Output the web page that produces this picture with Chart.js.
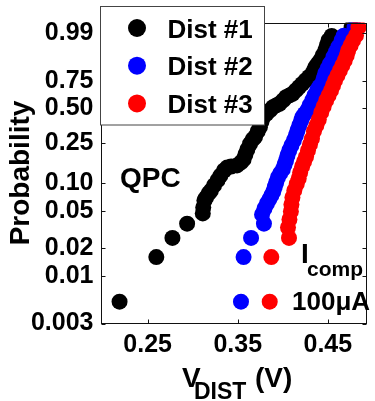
<!DOCTYPE html>
<html><head><meta charset="utf-8">
<script src="https://cdn.jsdelivr.net/npm/chart.js@4.4.1/dist/chart.umd.min.js"></script>
<style>html,body{margin:0;padding:0;background:#fff;}#wrap{width:375px;height:401px;position:relative;}</style>
</head><body><div id="wrap"><canvas id="c"></canvas></div>
<script>
// ---- data ----
const seriesNames = ['Dist #1', 'Dist #2', 'Dist #3'];
const seriesColors = ['#000000', '#0000ff', '#ff0000'];

const dist1V = [0.2188,0.2596,0.2775,0.2938,0.3112,0.3117,0.3130,0.3148,0.3177,0.3202,0.3237,0.3275,0.3308,0.3348,0.3384,0.3427,0.3492,0.3536,0.3565,0.3585,0.3607,0.3637,0.3666,0.3691,0.3721,0.3746,0.3764,0.3782,0.3818,0.3857,0.3891,0.3927,0.3963,0.4003,0.4036,0.4074,0.4109,0.4145,0.4180,0.4215,0.4253,0.4291,0.4326,0.4346,0.4362,0.4389,0.4416,0.4443,0.4471,0.4489,0.4507,0.4543,0.4764];
const dist1P = [0.0052,0.016,0.0258,0.0368,0.0475,0.055,0.0653,0.070,0.0774,0.083,0.094,0.106,0.119,0.134,0.144,0.1473,0.151,0.1617,0.1733,0.1942,0.2174,0.2466,0.2707,0.2843,0.3204,0.350,0.392,0.4258,0.4538,0.4816,0.5105,0.5258,0.541,0.571,0.6016,0.6175,0.633,0.6637,0.694,0.723,0.7542,0.784,0.810,0.836,0.860,0.8825,0.9025,0.9287,0.950,0.9666,0.979,0.9868,0.9953];

const dist2V = [0.3536,0.3565,0.3648,0.3791,0.3770,0.3797,0.3824,0.3851,0.3873,0.3895,0.3911,0.3927,0.3946,0.3971,0.4000,0.4020,0.4036,0.4052,0.4072,0.4096,0.4123,0.4145,0.4163,0.4183,0.4204,0.4217,0.4242,0.4272,0.4297,0.4326,0.4351,0.4380,0.4405,0.4435,0.4454,0.4471,0.4498,0.4525,0.4561,0.4590,0.4615,0.4652,0.4677,0.4797];
const dist2P = [0.0052,0.016,0.0258,0.0368,0.0463,0.0536,0.0606,0.067,0.0737,0.0812,0.0905,0.1008,0.1137,0.1251,0.1374,0.1544,0.1694,0.1899,0.2126,0.2376,0.2648,0.2947,0.327,0.3623,0.3995,0.425,0.452,0.4816,0.5258,0.571,0.6175,0.6637,0.696,0.725,0.7715,0.813,0.8505,0.883,0.9204,0.9442,0.9615,0.979,0.987,0.9953];

const dist3V = [0.3855,0.3873,0.4069,0.4058,0.4074,0.4090,0.4096,0.4107,0.4128,0.4155,0.4177,0.4193,0.4215,0.4237,0.4259,0.4280,0.4302,0.4324,0.4346,0.4373,0.4400,0.4427,0.4454,0.4482,0.4509,0.4536,0.4558,0.4580,0.4607,0.4634,0.4661,0.4688,0.4710,0.4726,0.4753,0.4780,0.4813,0.4840];
const dist3P = [0.0052,0.016,0.0258,0.0335,0.0409,0.0498,0.0592,0.0702,0.0832,0.0973,0.111,0.128,0.1475,0.1655,0.185,0.2126,0.243,0.275,0.322,0.3623,0.407,0.4647,0.517,0.571,0.6175,0.6637,0.7097,0.7542,0.7967,0.8358,0.8714,0.9025,0.9287,0.950,0.9666,0.979,0.9875,0.9953];

const xTickValues = [0.25, 0.35, 0.45];
const xTickLabels = ['0.25', '0.35', '0.45'];
const yTickValues = [0.003, 0.01, 0.02, 0.05, 0.10, 0.25, 0.50, 0.75, 0.99];
const yTickLabels = ['0.003', '0.01', '0.02', '0.05', '0.10', '0.25', '0.50', '0.75', '0.99'];
const xRange = [0.1982, 0.4935];
const yRange = [0.003, 0.9977];

// ---- Weibull probability scale ----
const FONT = "'Liberation Sans', Arial, sans-serif";
function weib(p) { return Math.log(-Math.log(1 - p)); }

class WeibullScale extends Chart.Scale {
  parse(raw) { return raw; }
  determineDataLimits() { this.min = this.options.min; this.max = this.options.max; }
  buildTicks() { return yTickValues.map(v => ({ value: v })); }
  getLabelForValue(v) { return String(v); }
  configure() {
    super.configure();
    this._wStart = weib(this.min);
    this._wEnd = weib(this.max);
  }
  getPixelForValue(v) {
    return this.getPixelForDecimal((weib(v) - this._wStart) / (this._wEnd - this._wStart));
  }
  getValueForPixel(p) {
    const w = this._wStart + this.getDecimalForPixel(p) * (this._wEnd - this._wStart);
    return 1 - Math.exp(-Math.exp(w));
  }
}
WeibullScale.id = 'weibull';
WeibullScale.defaults = {};
Chart.register(WeibullScale);

function pts(V, P) { return V.map((v, i) => ({ x: v, y: P[i] })); }
const allV = [dist1V, dist2V, dist3V];
const allP = [dist1P, dist2P, dist3P];

const frameAndText = {
  id: 'frameAndText',
  afterDatasetsDraw(chart) {
    const ctx = chart.ctx, a = chart.chartArea;
    const xs = chart.scales.x, ys = chart.scales.y;
    ctx.save();
    ctx.strokeStyle = '#111';
    ctx.lineWidth = 1;
    const L = Math.round(a.left) + 0.5, R = Math.round(a.right) - 0.5;
    const T = Math.round(a.top) + 0.5, B = Math.round(a.bottom) - 0.5;
    ctx.strokeRect(L, T, R - L, B - T);
    ctx.beginPath();
    xTickValues.forEach(v => {
      const px = Math.round(xs.getPixelForValue(v)) + 0.5;
      ctx.moveTo(px, B); ctx.lineTo(px, B - 4);
      ctx.moveTo(px, T); ctx.lineTo(px, T + 4);
    });
    yTickValues.forEach(v => {
      const py = Math.round(ys.getPixelForValue(v)) + 0.5;
      ctx.moveTo(L, py); ctx.lineTo(L + 4, py);
      ctx.moveTo(R, py); ctx.lineTo(R - 4, py);
    });
    ctx.stroke();
    ctx.restore();
  },
  afterDraw(chart) {
    const ctx = chart.ctx;
    ctx.save();
    // legend box
    ctx.fillStyle = '#fff';
    ctx.fillRect(100.5, 6.5, 164, 118.5);
    ctx.strokeStyle = '#444';
    ctx.lineWidth = 1;
    ctx.strokeRect(100.5, 6.5, 164, 118.5);
    ctx.textAlign = 'left';
    ctx.textBaseline = 'alphabetic';
    seriesNames.forEach((name, i) => {
      const cy = 28 + i * 37.7;
      ctx.fillStyle = seriesColors[i];
      ctx.beginPath(); ctx.arc(137, cy, 9, 0, Math.PI * 2); ctx.fill();
      ctx.fillStyle = '#000';
      ctx.font = 'bold 26px ' + FONT;
      ctx.fillText(name, 167.5, cy + 9.5);
    });
    // annotations
    ctx.fillStyle = '#000';
    ctx.font = 'bold 28px ' + FONT;
    ctx.fillText('QPC', 120, 187);
    ctx.fillText('I', 301, 263);
    ctx.font = 'bold 21px ' + FONT;
    ctx.fillText('comp', 307, 276);
    ctx.font = 'bold 26px ' + FONT;
    ctx.fillText('100\u03bcA', 292, 310);
    // x axis title
    ctx.font = 'bold 28px ' + FONT;
    ctx.fillText('V', 182, 387);
    ctx.font = 'bold 23px ' + FONT;
    ctx.fillText('DIST', 194, 399);
    ctx.font = 'bold 28px ' + FONT;
    ctx.fillText('(V)', 255, 387);
    ctx.restore();
  }
};

new Chart(document.getElementById('c'), {
  type: 'scatter',
  data: {
    datasets: seriesNames.map((name, i) => ({
      label: name,
      data: pts(allV[i], allP[i]),
      backgroundColor: seriesColors[i],
      borderColor: seriesColors[i],
      pointRadius: 8,
      pointHoverRadius: 8,
      pointBorderWidth: 0,
      showLine: false,
      clip: 0,
      order: 3 - i
    }))
  },
  options: {
    responsive: true,
    maintainAspectRatio: false,
    devicePixelRatio: 1,
    animation: false,
    events: [],
    layout: { padding: { top: 22, right: 2.5, left: 0, bottom: 0 } },
    plugins: { legend: { display: false }, tooltip: { enabled: false } },
    scales: {
      x: {
        type: 'linear',
        min: xRange[0], max: xRange[1],
        grid: { display: false, drawTicks: false },
        border: { display: false },
        afterBuildTicks: s => { s.ticks = xTickValues.map(v => ({ value: v })); },
        afterFit: s => { s.height = 77.5; },
        ticks: {
          autoSkip: false, maxRotation: 0, padding: 7, color: '#000',
          font: { family: FONT, size: 25, weight: 'bold' },
          callback: (v) => xTickLabels[xTickValues.indexOf(v)]
        }
      },
      y: {
        type: 'weibull',
        position: 'left',
        min: yRange[0], max: yRange[1],
        grid: { display: false, drawTicks: false },
        border: { display: false },
        afterFit: s => { s.width = 101; },
        ticks: {
          autoSkip: false, padding: 7.5, color: '#000',
          font: { family: FONT, size: 25, weight: 'bold' },
          callback: (v) => yTickLabels[yTickValues.indexOf(v)]
        },
        title: {
          display: true, text: 'Probability', color: '#000',
          font: { family: FONT, size: 28, weight: 'bold' },
          padding: { top: 4, bottom: 0 }
        }
      }
    }
  },
  plugins: [frameAndText]
});
</script>
</body></html>
